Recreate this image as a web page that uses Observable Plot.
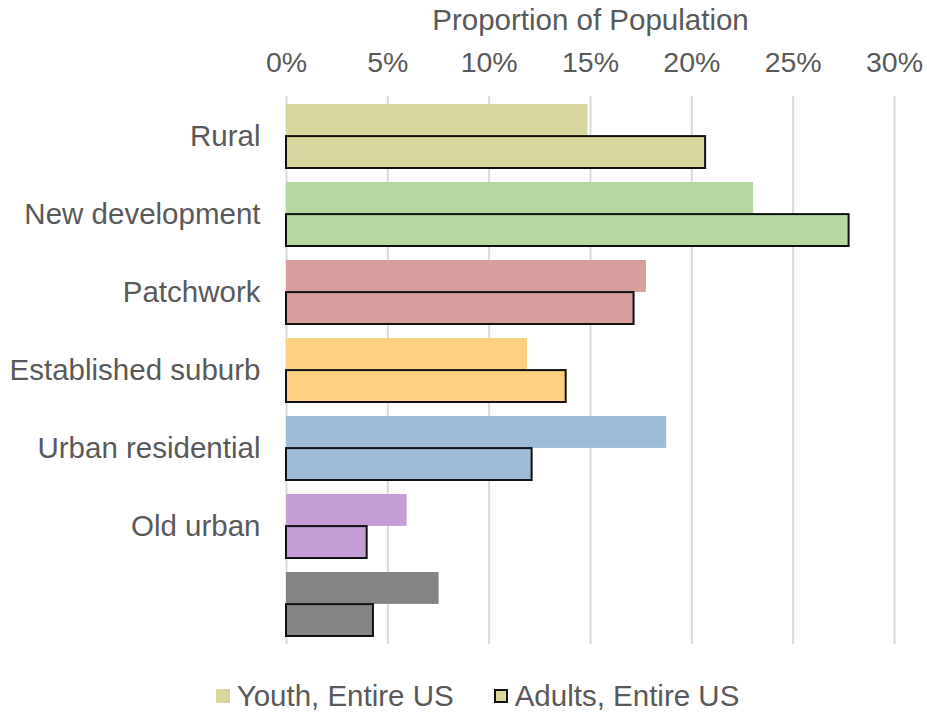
<!DOCTYPE html>
<html>
<head>
<meta charset="utf-8">
<script src="https://cdn.jsdelivr.net/npm/d3@7"></script>
<script src="https://cdn.jsdelivr.net/npm/@observablehq/plot@0.6"></script>
<style>
  body { margin: 0; background: #fff; font-family: "Liberation Sans", Arial, sans-serif; }
  #chart svg { display: block; }
  #legend { display: flex; justify-content: center; align-items: center; gap: 40px; height: 53px; padding-top: 18px; box-sizing: border-box; color: #595959; font-size: 29.5px; padding-left: 28px; }
  .item { display: flex; align-items: center; gap: 7px; }
  .sw { width: 14px; height: 14px; display: inline-block; box-sizing: border-box; }
</style>
</head>
<body>
<div id="chart"></div>
<div id="legend"></div>
<script>
const categories = ["Rural", "New development", "Patchwork", "Established suburb", "Urban residential", "Old urban", ""];
const youth = [0.1488, 0.2305, 0.1776, 0.1189, 0.1876, 0.0595, 0.0753];
const adults = [0.2068, 0.2776, 0.1715, 0.1380, 0.1212, 0.0398, 0.0429];
const colors = ["#d8d79e", "#b4d89f", "#d69e9c", "#fed181", "#9ebbd7", "#c49dd6", "#848484"];
const seriesNames = ["Youth, Entire US", "Adults, Entire US"];
const xTicks = [0, 0.05, 0.10, 0.15, 0.20, 0.25, 0.30];
const xTitle = "Proportion of Population";

const rows = categories.map((c, i) => ({cat: c, youth: youth[i], adults: adults[i], color: colors[i]}));

const W = 927, H = 660, mTop = 96, mBottom = 16;
const step = (H - mTop - mBottom) / categories.length;
const half = step * 0.82 / 2;

const plot = Plot.plot({
  width: W,
  height: H,
  marginTop: mTop,
  marginBottom: mBottom,
  marginLeft: 286,
  marginRight: 33,
  style: {fontFamily: "'Liberation Sans', Arial, sans-serif", fontSize: "28px", color: "#595959", background: "#fff"},
  x: {domain: [0, 0.30]},
  y: {domain: categories, paddingInner: 0.18, paddingOuter: 0.09},
  marks: [
    Plot.gridX(xTicks, {stroke: "#d9d9d9", strokeOpacity: 1, strokeWidth: 2}),
    Plot.barX(rows, {x: "youth", y: "cat", fill: "color", insetBottom: half}),
    Plot.barX(rows, {x: "adults", y: "cat", fill: "color", stroke: "#111", strokeWidth: 2, insetTop: half}),
    Plot.axisX({anchor: "top", ticks: xTicks, tickSize: 0, tickPadding: 25, tickFormat: d3.format(".0%"), label: null, fill: "#595959", fontSize: 28.5}),
    Plot.axisY({tickSize: 0, tickPadding: 26, label: null, tickFormat: d => d, fill: "#595959", fontSize: 29.5}),
    Plot.text([xTitle], {frameAnchor: "top", fill: "#595959", fontSize: 29.5, dy: -87})
  ]
});
document.getElementById("chart").appendChild(plot);

const legend = document.getElementById("legend");
seriesNames.forEach((name, i) => {
  const item = document.createElement("span");
  item.className = "item";
  const sw = document.createElement("span");
  sw.className = "sw";
  sw.style.background = colors[0];
  if (i === 1) sw.style.border = "2px solid #111";
  const t = document.createElement("span");
  t.textContent = name;
  item.appendChild(sw);
  item.appendChild(t);
  legend.appendChild(item);
});
</script>
</body>
</html>
